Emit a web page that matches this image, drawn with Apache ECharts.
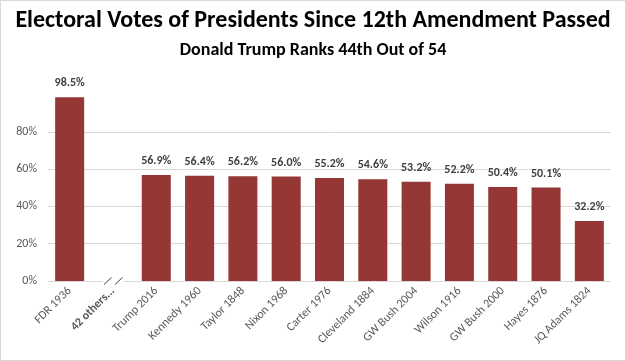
<!DOCTYPE html>
<html>
<head>
<meta charset="utf-8">
<script src="https://cdn.jsdelivr.net/npm/echarts@6/dist/echarts.min.js"></script>
<style>
html,body{margin:0;padding:0;background:#fff;}
#c{width:626px;height:361px;box-sizing:border-box;border:1px solid #d9d9d9;}
</style>
</head>
<body>
<div id="c"></div>
<script>
const titleText = 'Electoral Votes of Presidents Since 12th Amendment Passed';
const subtitleText = 'Donald Trump Ranks 44th Out of 54';
const categories = ['FDR 1936','42 others...','Trump 2016','Kennedy 1960','Taylor 1848','Nixon 1968','Carter 1976','Cleveland 1884','GW Bush 2004','Wilson 1916','GW Bush 2000','Hayes 1876','JQ Adams 1824'];
const values = [98.5, null, 56.9, 56.4, 56.2, 56.0, 55.2, 54.6, 53.2, 52.2, 50.4, 50.1, 32.2];
const breakCategory = ['42 others...'];
const yTicks = [0, 20, 40, 60, 80];

const FONT = 'Carlito, Lato, "Open Sans", sans-serif';
const chart = echarts.init(document.getElementById('c'), null, {renderer:'canvas'});
chart.setOption({
  animation:false,
  title:[
    {text:titleText,left:'center',top:3,textStyle:{fontFamily:FONT,fontSize:24,fontWeight:'bold',color:'#000'}},
    {text:subtitleText,left:'center',top:35,textStyle:{fontFamily:FONT,fontSize:18,fontWeight:'bold',color:'#000'}}
  ],
  grid:{left:47,right:14,top:93.5,bottom:79},
  xAxis:{
    type:'category',data:categories,
    axisLine:{show:false},axisTick:{show:false},
    axisLabel:{interval:0,rotate:45,margin:8,fontFamily:FONT,fontSize:12,color:'#595959',
      formatter:function(v){return breakCategory.indexOf(v)>=0?'{b|'+v+'}':v;},
      rich:{b:{fontWeight:'bold',fontFamily:FONT,fontSize:12,color:'#595959'}}}
  },
  yAxis:{
    type:'value',min:0,max:100,interval:20,
    axisLine:{show:false},axisTick:{show:false},
    axisLabel:{margin:11,fontFamily:FONT,fontSize:12,color:'#595959',
      formatter:function(v){return yTicks.indexOf(v)>=0? v+'%':'';}},
    splitLine:{lineStyle:{color:['#d9d9d9','#d9d9d9','#d9d9d9','#d9d9d9','#d9d9d9','rgba(0,0,0,0)'],width:1}}
  },
  series:[
    {type:'bar',data:values,barWidth:'67%',itemStyle:{color:'#953735'},
     label:{show:true,position:'top',distance:8,fontFamily:FONT,fontSize:12,fontWeight:'bold',color:'#404040',
       formatter:function(p){return p.value==null?'':p.value.toFixed(1)+'%';}}},
    {type:'custom',data:breakCategory.map(c=>[c,0]),z:10,
     renderItem:function(params,api){
       const p = api.coord([api.value(0),0]);
       const x=p[0], y=p[1];
       return {type:'group',children:[
         {type:'rect',shape:{x:x-10.5,y:y-2,width:21,height:4},style:{fill:'#fff'}},
         {type:'line',shape:{x1:x-9,y1:y+3.5,x2:x-1.5,y2:y-3.5},style:{stroke:'#404040',lineWidth:1}},
         {type:'line',shape:{x1:x+2,y1:y+3.5,x2:x+9.5,y2:y-3.5},style:{stroke:'#404040',lineWidth:1}}
       ]};
     }}
  ]
});
</script>
</body>
</html>
